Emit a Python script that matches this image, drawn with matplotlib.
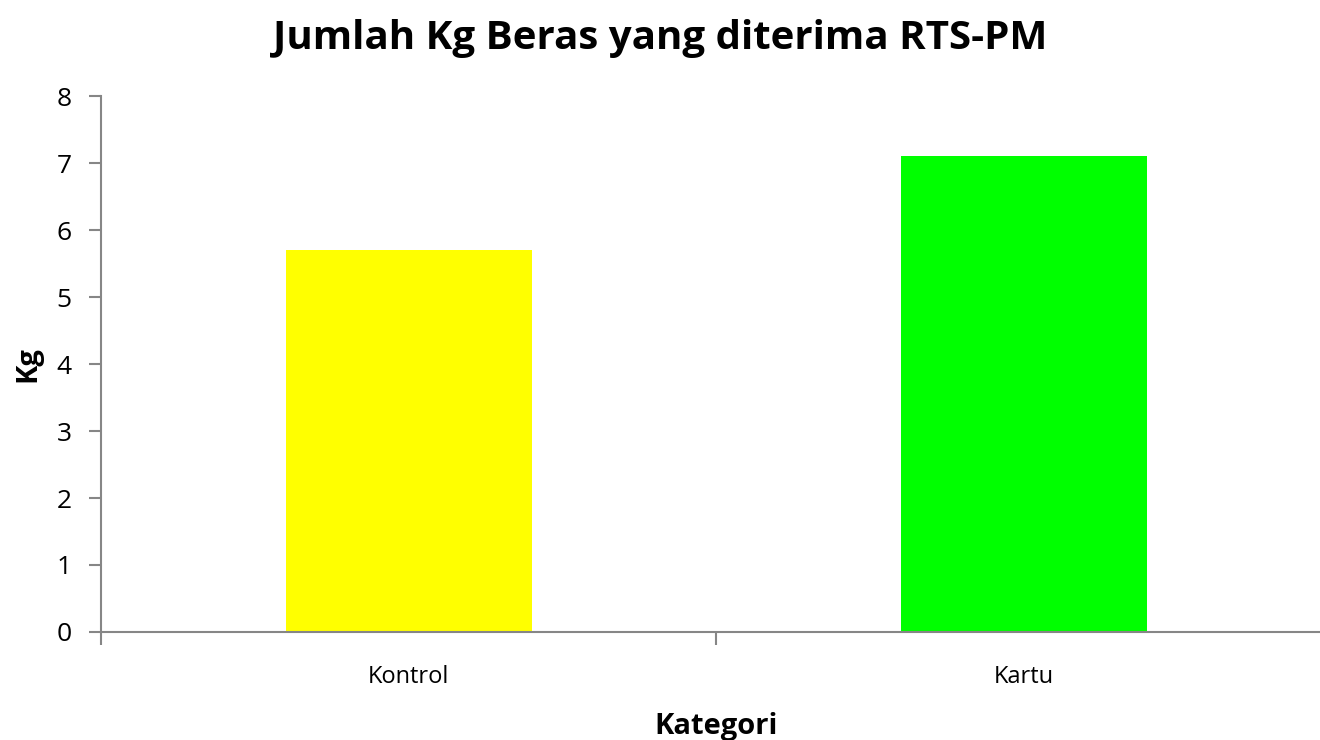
import matplotlib
matplotlib.use('Agg')
import matplotlib.pyplot as plt

categories = ['Kontrol', 'Kartu']
values = [5.7, 7.1]
colors = ['#FFFF00', '#00FF00']

plt.rcParams['font.family'] = ['Open Sans', 'DejaVu Sans']

fig = plt.figure(figsize=(13.2, 7.4), dpi=100)
ax = fig.add_axes([0.0765, 0.146, 0.932, 0.724])

x = list(range(len(categories)))
ax.bar(x, values, width=0.4, color=colors)

ax.set_xlim(-0.5, len(categories) - 0.5)
ax.set_ylim(0, 8)
ax.set_yticks(range(0, 9))
ax.set_xticks(x)
ax.set_xticklabels(categories, fontsize=17)
ax.set_xticks([-0.5, 0.5, 1.5], minor=True)
ax.tick_params(axis='x', which='major', length=0, pad=24)
ax.tick_params(axis='x', which='minor', length=9, width=1.5, color='#868686')
ax.tick_params(axis='y', length=9, width=1.5, color='#868686', labelsize=19, pad=12)

for s in ['top', 'right']:
    ax.spines[s].set_visible(False)
for s in ['left', 'bottom']:
    ax.spines[s].set_color('#868686')
    ax.spines[s].set_linewidth(1.5)

ax.set_xlabel('Kategori', fontsize=21, fontweight='bold', labelpad=16)
ax.set_ylabel('Kg', fontsize=21, fontweight='bold', labelpad=10)
fig.suptitle('Jumlah Kg Beras yang diterima RTS-PM', fontsize=29, fontweight='bold', y=0.975)

fig.savefig('out.png', dpi=100)
